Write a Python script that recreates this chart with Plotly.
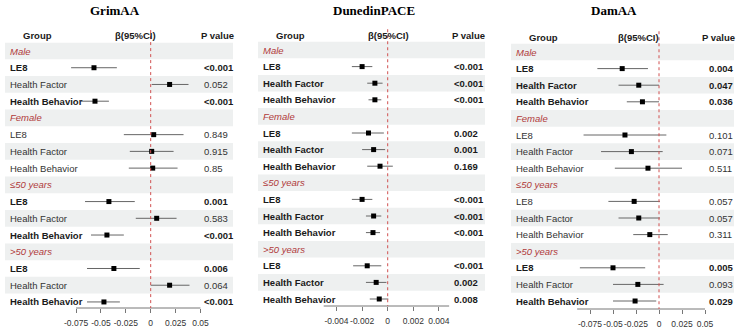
import plotly.graph_objects as go

W, H = 744, 332

groups = ["Male", "Female", "≤50 years", ">50 years"]
items = ["LE8", "Health Factor", "Health Behavior"]

grim_beta = [-0.057, 0.019, -0.056, 0.003, 0.001, 0.002, -0.042, 0.006, -0.044, -0.037, 0.019, -0.047]
grim_lo = [-0.080, 0.001, -0.070, -0.027, -0.021, -0.022, -0.066, -0.015, -0.060, -0.064, 0.000, -0.064]
grim_hi = [-0.034, 0.038, -0.042, 0.033, 0.023, 0.027, -0.016, 0.026, -0.027, -0.011, 0.039, -0.031]
grim_p = ["<0.001", "0.052", "<0.001", "0.849", "0.915", "0.85", "0.001", "0.583", "<0.001", "0.006", "0.064", "<0.001"]
grim_bold = [1, 0, 1, 0, 0, 0, 1, 0, 1, 1, 0, 1]

dun_beta = [-0.0020, -0.0010, -0.0010, -0.0015, -0.0011, -0.0006, -0.0020, -0.0011, -0.00115, -0.0016, -0.0009, -0.00066]
dun_lo = [-0.0028, -0.0016, -0.0015, -0.0028, -0.0020, -0.0016, -0.0028, -0.0017, -0.0017, -0.0027, -0.0017, -0.0014]
dun_hi = [-0.0012, -0.0004, -0.0005, -0.0003, -0.0002, 0.0004, -0.0012, -0.0005, -0.0006, -0.0005, -0.0001, 0.00005]
dun_p = ["<0.001", "<0.001", "<0.001", "0.002", "0.001", "0.169", "<0.001", "<0.001", "<0.001", "<0.001", "0.002", "0.008"]
dun_bold = [1, 1, 1, 1, 1, 1, 1, 1, 1, 1, 1, 1]

dam_beta = [-0.040, -0.022, -0.018, -0.037, -0.030, -0.012, -0.027, -0.022, -0.010, -0.050, -0.023, -0.026]
dam_lo = [-0.067, -0.044, -0.035, -0.082, -0.063, -0.048, -0.055, -0.044, -0.028, -0.086, -0.050, -0.050]
dam_hi = [-0.012, 0.000, 0.000, 0.008, 0.004, 0.025, 0.001, 0.001, 0.0095, -0.015, 0.005, -0.003]
dam_p = ["0.004", "0.047", "0.036", "0.101", "0.071", "0.511", "0.057", "0.057", "0.311", "0.005", "0.093", "0.029"]
dam_bold = [1, 1, 1, 0, 0, 0, 0, 0, 0, 1, 0, 1]

titles = ["GrimAA", "DunedinPACE", "DamAA"]
tick_vals = [[-0.075, -0.05, -0.025, 0, 0.025, 0.05],
             [-0.004, -0.002, 0, 0.002, 0.004],
             [-0.075, -0.05, -0.025, 0, 0.025, 0.05]]
tick_text = [["-0.075", "-0.05", "-0.025", "0", "0.025", "0.05"],
             ["-0.004", "-0.002", "0", "0.002", "0.004"],
             ["-0.075", "-0.05", "-0.025", "0", "0.025", "0.05"]]
axis_span = [(-0.075, 0.05), (-0.005, 0.0048), (-0.089, 0.05)]

# layout geometry (pixels)
panels = [
    dict(zero=150.7, scale=995.0, dom=(60, 212), axis_y=308, y0=51, dy=16.73,
         lab_x=8, grp_x=37, beta_x=135, ph_x=217, p_x=202, band=(5, 233), title_x=115),
    dict(zero=387.7, scale=12800.0, dom=(312, 462), axis_y=306, y0=50, dy=16.6,
         lab_x=261, grp_x=290, beta_x=388, ph_x=468, p_x=452, band=(258, 485), title_x=374),
    dict(zero=659.0, scale=920.0, dom=(565, 716), axis_y=309, y0=52, dy=16.6,
         lab_x=514, grp_x=543, beta_x=638, ph_x=718, p_x=707, band=(511, 734), title_x=614),
]

data = [(grim_beta, grim_lo, grim_hi, grim_p, grim_bold),
        (dun_beta, dun_lo, dun_hi, dun_p, dun_bold),
        (dam_beta, dam_lo, dam_hi, dam_p, dam_bold)]

FONT = "Liberation Sans, Arial, sans-serif"
FS = 9.5
RED = "#b03a3a"
TXT = "#1a1a1a"

fig = go.Figure()
layout = dict(width=W, height=H, margin=dict(l=0, r=0, t=0, b=0, autoexpand=False),
              paper_bgcolor="white", plot_bgcolor="rgba(0,0,0,0)",
              showlegend=False, font=dict(family=FONT, size=FS, color=TXT))
shapes, annotations = [], []

for k, (pn, (beta, lo, hi, pv, bold)) in enumerate(zip(panels, data)):
    sfx = "" if k == 0 else str(k + 1)
    xa, ya = "x" + sfx, "y" + sfx
    rows, xs, em, ep = [], [], [], []
    for g in range(len(groups)):
        for j in range(len(items)):
            i = g * 3 + j
            rows.append(g * 4 + j + 1)
            xs.append(beta[i])
            em.append(beta[i] - lo[i])
            ep.append(hi[i] - beta[i])
    fig.add_trace(go.Scatter(
        x=xs, y=rows, mode="markers", xaxis=xa, yaxis=ya,
        marker=dict(symbol="square", size=5, color="black"),
        error_x=dict(type="data", symmetric=False, array=ep, arrayminus=em,
                     color="#666666", thickness=1, width=0),
        cliponaxis=False, hoverinfo="skip"))

    d0, d1 = pn["dom"]
    rmin = (d0 - pn["zero"]) / pn["scale"]
    rmax = (d1 - pn["zero"]) / pn["scale"]
    layout["xaxis" + sfx] = dict(
        domain=[d0 / W, d1 / W], range=[rmin, rmax], anchor=ya, automargin=False,
        showgrid=False, zeroline=False, showline=False, tickangle=0,
        tickmode="array", tickvals=tick_vals[k], ticktext=tick_text[k],
        ticks="outside", ticklen=4, tickcolor="#777777", tickwidth=1,
        tickfont=dict(family=FONT, size=8.5, color="#333333"), ticklabelstandoff=3)
    ay = pn["axis_y"]
    yb = (ay - pn["y0"]) / pn["dy"]
    yt = (0 - pn["y0"]) / pn["dy"]
    layout["yaxis" + sfx] = dict(
        domain=[1 - ay / H, 1], range=[yb, yt], anchor=xa, automargin=False,
        visible=False, showgrid=False, zeroline=False)

    # bands on alternate rows
    for r in range(0, 16, 2):
        shapes.append(dict(type="rect", xref="paper", yref=ya,
                           x0=pn["band"][0] / W, x1=pn["band"][1] / W,
                           y0=r - 0.5, y1=r + 0.5, fillcolor="#eef0f0",
                           line=dict(width=0), layer="below"))
    # axis line
    shapes.append(dict(type="line", xref=xa, yref="paper",
                       x0=axis_span[k][0], x1=axis_span[k][1],
                       y0=1 - ay / H, y1=1 - ay / H,
                       line=dict(color="#777777", width=1)))
    # reference dashed line at 0
    shapes.append(dict(type="line", xref=xa, yref=ya, x0=0, x1=0,
                       y0=-1.25, y1=yb, line=dict(color="#d05050", width=1, dash="dot")))

    # title
    annotations.append(dict(text="<b>%s</b>" % titles[k], xref="paper", yref="paper",
                            x=pn["title_x"] / W, y=1 - 11 / H, showarrow=False,
                            font=dict(family="Liberation Serif, Times New Roman, serif",
                                      size=13, color="black"),
                            xanchor="center", yanchor="middle"))
    # headers
    for txt, xp in [("Group", pn["grp_x"]), ("β(95%CI)", pn["beta_x"]), ("P value", pn["ph_x"])]:
        annotations.append(dict(text="<b>%s</b>" % txt, xref="paper", yref=ya,
                                x=xp / W, y=-0.9, showarrow=False, xanchor="center",
                                yanchor="middle", font=dict(size=FS, color=TXT)))
    # row labels
    for g, gname in enumerate(groups):
        annotations.append(dict(text="<i>%s</i>" % gname, xref="paper", yref=ya,
                                x=pn["lab_x"] / W, y=g * 4, showarrow=False,
                                xanchor="left", yanchor="middle",
                                font=dict(size=FS, color=RED)))
        for j, it in enumerate(items):
            i = g * 3 + j
            lab = "<b>%s</b>" % it if bold[i] else it
            ptx = "<b>%s</b>" % pv[i] if bold[i] else pv[i]
            col = TXT if bold[i] else "#333333"
            annotations.append(dict(text=lab, xref="paper", yref=ya,
                                    x=pn["lab_x"] / W, y=g * 4 + j + 1, showarrow=False,
                                    xanchor="left", yanchor="middle",
                                    font=dict(size=FS, color=col)))
            annotations.append(dict(text=ptx, xref="paper", yref=ya,
                                    x=pn["p_x"] / W, y=g * 4 + j + 1, showarrow=False,
                                    xanchor="left", yanchor="middle",
                                    font=dict(size=FS, color=col)))

layout["shapes"] = shapes
layout["annotations"] = annotations
fig.update_layout(**layout)
fig.write_html("out.html")
